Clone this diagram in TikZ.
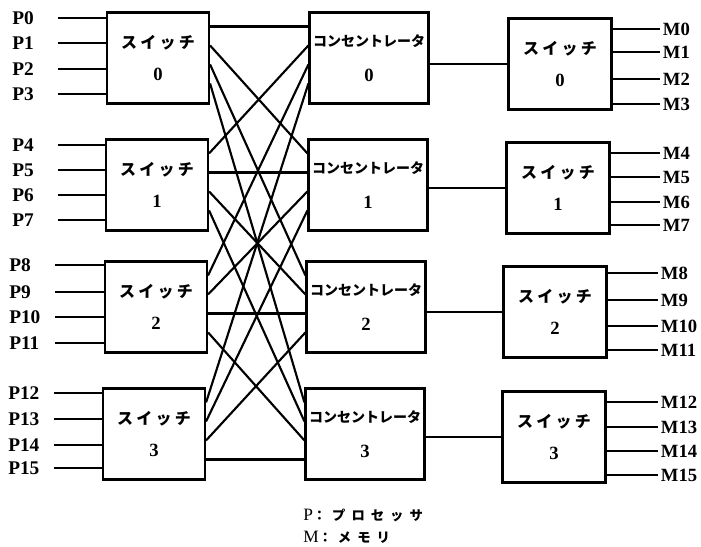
\documentclass[tikz,border=0pt]{standalone}
\usepackage{fontspec}
\setmainfont{Liberation Serif}
\newfontfamily\jpfont{Noto Sans CJK JP}
\newfontfamily\jpwide{Noto Sans CJK JP}[LetterSpace=20]
\newfontfamily\jpkey{Noto Sans CJK JP}[LetterSpace=45]
\usetikzlibrary{positioning,calc}
\tikzset{
  swbox/.style   = {draw, line width=1.6pt, align=center,
                    minimum width=76.5pt, minimum height=68.25pt,
                    inner sep=2pt, font=\fontsize{14}{24}\selectfont\bfseries},
  swleft/.style  = {swbox},
  conc/.style    = {swbox, minimum width=89.25pt,
                    font=\fontsize{14}{26}\selectfont\bfseries},
  swright/.style = {swbox, minimum width=77.25pt},
  plabel/.style  = {anchor=west, text width=34pt, align=left,
                    inner xsep=0pt, inner ysep=0pt,
                    font=\fontsize{14.5}{14.5}\selectfont\bfseries},
  mlabel/.style  = {anchor=west, inner xsep=2pt, inner ysep=0pt,
                    font=\fontsize{14}{14}\selectfont\bfseries},
  wire/.style    = {line width=1.6pt},
  key/.style     = {anchor=west, align=left, inner sep=0pt,
                    font=\fontsize{13}{16.5}\selectfont}
}

\begin{document}
\begin{tikzpicture}[x=0.75pt, y=-0.75pt]

  \useasboundingbox (0,0) rectangle (701,547);

  % Processor-side switches.
  \node[swleft] (SL0) at (158,58)  {{\jpwide\fontsize{12}{12}\selectfont スイッチ}\\0};
  \node[swleft] (SL1) at (157,185) {{\jpwide\fontsize{12}{12}\selectfont スイッチ}\\1};
  \node[swleft] (SL2) at (156,307) {{\jpwide\fontsize{12}{12}\selectfont スイッチ}\\2};
  \node[swleft] (SL3) at (154,434) {{\jpwide\fontsize{12}{12}\selectfont スイッチ}\\3};

  % Concentrators in the middle column.
  \node[conc] (C0) at (369,58)  {{\jpfont\fontsize{10.5}{10.5}\selectfont コンセントレータ}\\0};
  \node[conc] (C1) at (368,185) {{\jpfont\fontsize{10.5}{10.5}\selectfont コンセントレータ}\\1};
  \node[conc] (C2) at (366,307) {{\jpfont\fontsize{10.5}{10.5}\selectfont コンセントレータ}\\2};
  \node[conc] (C3) at (365,434) {{\jpfont\fontsize{10.5}{10.5}\selectfont コンセントレータ}\\3};

  % Memory-side switches.
  \node[swright] (SR0) at (560,64)  {{\jpwide\fontsize{12}{12}\selectfont スイッチ}\\0};
  \node[swright] (SR1) at (558,188) {{\jpwide\fontsize{12}{12}\selectfont スイッチ}\\1};
  \node[swright] (SR2) at (555,312) {{\jpwide\fontsize{12}{12}\selectfont スイッチ}\\2};
  \node[swright] (SR3) at (554,437) {{\jpwide\fontsize{12}{12}\selectfont スイッチ}\\3};

  % Processor labels and input lines.
  \node[plabel] (P0)  at (12,18)  {P0};
  \node[plabel] (P1)  at (12,43)  {P1};
  \node[plabel] (P2)  at (12,69)  {P2};
  \node[plabel] (P3)  at (12,94)  {P3};
  \node[plabel] (P4)  at (12,145) {P4};
  \node[plabel] (P5)  at (12,170) {P5};
  \node[plabel] (P6)  at (12,195) {P6};
  \node[plabel] (P7)  at (12,220) {P7};
  \node[plabel] (P8)  at (9,265)  {P8};
  \node[plabel] (P9)  at (9,292)  {P9};
  \node[plabel] (P10) at (9,317)  {P10};
  \node[plabel] (P11) at (9,343)  {P11};
  \node[plabel] (P12) at (8,393)  {P12};
  \node[plabel] (P13) at (8,419)  {P13};
  \node[plabel] (P14) at (8,445)  {P14};
  \node[plabel] (P15) at (8,468)  {P15};

  \draw[wire] (P0.east)  -- (P0 -| SL0.west);
  \draw[wire] (P1.east)  -- (P1 -| SL0.west);
  \draw[wire] (P2.east)  -- (P2 -| SL0.west);
  \draw[wire] (P3.east)  -- (P3 -| SL0.west);
  \draw[wire] (P4.east)  -- (P4 -| SL1.west);
  \draw[wire] (P5.east)  -- (P5 -| SL1.west);
  \draw[wire] (P6.east)  -- (P6 -| SL1.west);
  \draw[wire] (P7.east)  -- (P7 -| SL1.west);
  \draw[wire] (P8.east)  -- (P8 -| SL2.west);
  \draw[wire] (P9.east)  -- (P9 -| SL2.west);
  \draw[wire] (P10.east) -- (P10 -| SL2.west);
  \draw[wire] (P11.east) -- (P11 -| SL2.west);
  \draw[wire] (P12.east) -- (P12 -| SL3.west);
  \draw[wire] (P13.east) -- (P13 -| SL3.west);
  \draw[wire] (P14.east) -- (P14 -| SL3.west);
  \draw[wire] (P15.east) -- (P15 -| SL3.west);

  % Crossbar: output j of switch i goes to input i of concentrator j.
  \draw[wire] ([yshift=-11.25pt]SL0.north east) -- ([yshift=-11.25pt]C0.north west);
  \draw[wire] ([yshift=-25.5pt]SL0.north east)  -- ([yshift=-11.25pt]C1.north west);
  \draw[wire] ([yshift=-39.75pt]SL0.north east) -- ([yshift=-11.25pt]C2.north west);
  \draw[wire] ([yshift=-54pt]SL0.north east)    -- ([yshift=-11.25pt]C3.north west);

  \draw[wire] ([yshift=-11.25pt]SL1.north east) -- ([yshift=-25.5pt]C0.north west);
  \draw[wire] ([yshift=-25.5pt]SL1.north east)  -- ([yshift=-25.5pt]C1.north west);
  \draw[wire] ([yshift=-39.75pt]SL1.north east) -- ([yshift=-25.5pt]C2.north west);
  \draw[wire] ([yshift=-54pt]SL1.north east)    -- ([yshift=-25.5pt]C3.north west);

  \draw[wire] ([yshift=-11.25pt]SL2.north east) -- ([yshift=-39.75pt]C0.north west);
  \draw[wire] ([yshift=-25.5pt]SL2.north east)  -- ([yshift=-39.75pt]C1.north west);
  \draw[wire] ([yshift=-39.75pt]SL2.north east) -- ([yshift=-39.75pt]C2.north west);
  \draw[wire] ([yshift=-54pt]SL2.north east)    -- ([yshift=-39.75pt]C3.north west);

  \draw[wire] ([yshift=-11.25pt]SL3.north east) -- ([yshift=-54pt]C0.north west);
  \draw[wire] ([yshift=-25.5pt]SL3.north east)  -- ([yshift=-54pt]C1.north west);
  \draw[wire] ([yshift=-39.75pt]SL3.north east) -- ([yshift=-54pt]C2.north west);
  \draw[wire] ([yshift=-54pt]SL3.north east)    -- ([yshift=-54pt]C3.north west);

  % Concentrator to memory-side switch.
  \draw[wire] (C0.east |- SR0.west) -- (SR0.west);
  \draw[wire] (C1.east |- SR1.west) -- (SR1.west);
  \draw[wire] (C2.east |- SR2.west) -- (SR2.west);
  \draw[wire] (C3.east |- SR3.west) -- (SR3.west);

  % Memory labels and output lines.
  \node[mlabel] (M0)  at (660,29)  {M0};
  \node[mlabel] (M1)  at (660,52)  {M1};
  \node[mlabel] (M2)  at (660,79)  {M2};
  \node[mlabel] (M3)  at (660,104) {M3};
  \node[mlabel] (M4)  at (660,153) {M4};
  \node[mlabel] (M5)  at (660,177) {M5};
  \node[mlabel] (M6)  at (660,202) {M6};
  \node[mlabel] (M7)  at (660,225) {M7};
  \node[mlabel] (M8)  at (658,273) {M8};
  \node[mlabel] (M9)  at (658,300) {M9};
  \node[mlabel] (M10) at (658,326) {M10};
  \node[mlabel] (M11) at (658,350) {M11};
  \node[mlabel] (M12) at (658,402) {M12};
  \node[mlabel] (M13) at (658,427) {M13};
  \node[mlabel] (M14) at (658,451) {M14};
  \node[mlabel] (M15) at (658,475) {M15};

  \draw[wire] (M0 -| SR0.east)  -- (M0.west);
  \draw[wire] (M1 -| SR0.east)  -- (M1.west);
  \draw[wire] (M2 -| SR0.east)  -- (M2.west);
  \draw[wire] (M3 -| SR0.east)  -- (M3.west);
  \draw[wire] (M4 -| SR1.east)  -- (M4.west);
  \draw[wire] (M5 -| SR1.east)  -- (M5.west);
  \draw[wire] (M6 -| SR1.east)  -- (M6.west);
  \draw[wire] (M7 -| SR1.east)  -- (M7.west);
  \draw[wire] (M8 -| SR2.east)  -- (M8.west);
  \draw[wire] (M9 -| SR2.east)  -- (M9.west);
  \draw[wire] (M10 -| SR2.east) -- (M10.west);
  \draw[wire] (M11 -| SR2.east) -- (M11.west);
  \draw[wire] (M12 -| SR3.east) -- (M12.west);
  \draw[wire] (M13 -| SR3.east) -- (M13.west);
  \draw[wire] (M14 -| SR3.east) -- (M14.west);
  \draw[wire] (M15 -| SR3.east) -- (M15.west);

  % Legend.
  \node[key] (legend) at (303,526)
    {P{\jpkey\bfseries\fontsize{10}{10}\selectfont ：プロセッサ}\\M{\jpkey\bfseries\fontsize{10}{10}\selectfont ：メモリ}};

\end{tikzpicture}
\end{document}
